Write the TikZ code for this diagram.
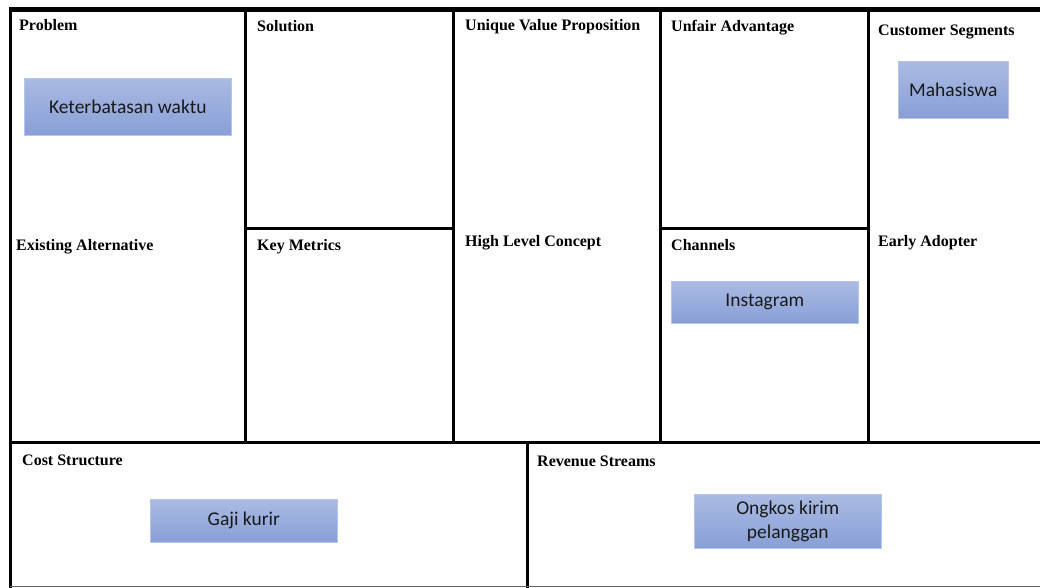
\documentclass[tikz,border=0pt]{standalone}
\usepackage{fontspec}
\setmainfont{Liberation Serif}
\newfontfamily\boxfont{Carlito}
\definecolor{boxtop}{HTML}{AABAE3}
\definecolor{boxbot}{HTML}{889FD6}
\definecolor{boxedge}{HTML}{B8C5EA}
\tikzset{
  frame/.style={line width=3pt, line cap=rect},
  heading/.style={anchor=base west, inner sep=0pt, font=\fontsize{16}{18}\selectfont\bfseries},
  itembox/.style={anchor=north west, inner sep=0pt, top color=boxtop, bottom color=boxbot, draw=boxedge, line width=0.6pt, font=\boxfont\fontsize{19.5}{24}\selectfont, align=center, text=black!90}
}
\begin{document}
\begin{tikzpicture}[x=1pt,y=-1pt]
\useasboundingbox (0,0) rectangle (1040,588);
\fill[white] (0,0) rectangle (1040,588);
% frame lines
\draw[line width=5pt] (9,9.5) -- (1040,9.5);
\draw[frame] (10,9) -- (10,586);
\draw[frame] (245,9) -- (245,442);
\draw[frame] (453,9) -- (453,442);
\draw[frame] (660,9) -- (660,442);
\draw[frame] (868,9) -- (868,442);
\draw[frame] (10,442) -- (1040,442);
\draw[frame] (245,228) -- (453,228);
\draw[frame] (660,228) -- (868,228);
\draw[frame] (527,442) -- (527,587);
\draw[line width=1.5pt, black!60] (10,586.5) -- (1040,586.5);
% headings
\node[heading] (hProblem) at (19,31) {Problem};
\node[heading] (hSolution) at (257,32) {Solution};
\node[heading] (hUVP) at (465,31) {Unique Value Proposition};
\node[heading] (hUnfair) at (671,32) {Unfair Advantage};
\node[heading] (hCustomer) at (878,36) {Customer Segments};
\node[heading] (hExisting) at (16,250) {Existing Alternative};
\node[heading] (hMetrics) at (257,250) {Key Metrics};
\node[heading] (hHLC) at (465,246) {High Level Concept};
\node[heading] (hChannels) at (671,250) {Channels};
\node[heading] (hEarly) at (878,246) {Early Adopter};
\node[heading] (hCost) at (22,465) {Cost Structure};
\node[heading] (hRevenue) at (537,466) {Revenue Streams};
% item boxes
\node[itembox, minimum width=207pt, minimum height=57pt] (bWaktu) at (24,78) {Keterbatasan waktu};
\node[itembox, minimum width=110pt, minimum height=57pt] (bMhs) at (898,61) {Mahasiswa};
\node[itembox, minimum width=187pt, minimum height=42pt] (bIg) at (671,281) {Instagram};
\node[itembox, minimum width=187pt, minimum height=43pt] (bGaji) at (150,499) {Gaji kurir};
\node[itembox, minimum width=187pt, minimum height=54pt] (bOngkos) at (694,494) {Ongkos kirim\\pelanggan};
\end{tikzpicture}
\end{document}
